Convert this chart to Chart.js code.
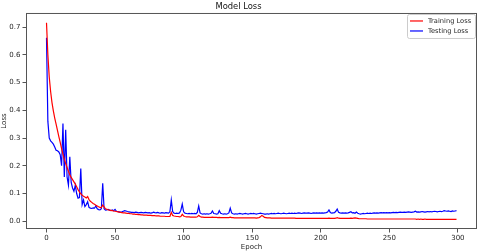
<!DOCTYPE html>
<html>
<head>
<meta charset="utf-8">
<script src="https://cdn.jsdelivr.net/npm/chart.js@4/dist/chart.umd.min.js"></script>
<style>
  html, body { margin: 0; padding: 0; background: #fff; }
  canvas { display: block; }
</style>
</head>
<body>
<canvas id="chart" width="480" height="252"></canvas>
<script>
// x values: training epochs 0..299
const epochs = Array.from({ length: 300 }, (_, i) => i);

// tick values shown on the axes
const yTicks = [0.0, 0.1, 0.2, 0.3, 0.4, 0.5, 0.6, 0.7];
const xTicks = [0, 50, 100, 150, 200, 250, 300];

// one value per epoch
const trainingLoss = [
  0.716, 0.600, 0.520, 0.468, 0.428, 0.398, 0.372, 0.350, 0.328, 0.305,
  0.284, 0.262, 0.242, 0.224, 0.208, 0.194, 0.180, 0.168, 0.158, 0.150,
  0.142, 0.134, 0.124, 0.114, 0.106, 0.099, 0.094, 0.090, 0.087, 0.084,
  0.089, 0.078, 0.072, 0.068, 0.064, 0.061, 0.058, 0.055, 0.052, 0.050,
  0.049, 0.058, 0.052, 0.045, 0.043, 0.041, 0.040, 0.039, 0.038, 0.037,
  0.036, 0.035, 0.034, 0.033, 0.032, 0.031, 0.030, 0.030, 0.029, 0.028,
  0.028, 0.027, 0.027, 0.026, 0.026, 0.025, 0.025, 0.024, 0.024, 0.023,
  0.023, 0.022, 0.022, 0.022, 0.021, 0.021, 0.021, 0.020, 0.020, 0.020,
  0.019, 0.019, 0.019, 0.018, 0.018, 0.018, 0.018, 0.017, 0.017, 0.017,
  0.017, 0.032, 0.021, 0.019, 0.018, 0.017, 0.017, 0.016, 0.017, 0.025,
  0.019, 0.017, 0.016, 0.016, 0.016, 0.015, 0.015, 0.015, 0.015, 0.015,
  0.016, 0.021, 0.017, 0.015, 0.015, 0.014, 0.014, 0.014, 0.014, 0.014,
  0.014, 0.015, 0.014, 0.014, 0.014, 0.013, 0.014, 0.013, 0.013, 0.013,
  0.013, 0.013, 0.013, 0.013, 0.015, 0.013, 0.013, 0.012, 0.012, 0.012,
  0.012, 0.012, 0.012, 0.012, 0.012, 0.012, 0.012, 0.012, 0.012, 0.012,
  0.012, 0.012, 0.012, 0.011, 0.012, 0.013, 0.016, 0.021, 0.018, 0.014,
  0.013, 0.012, 0.012, 0.012, 0.011, 0.011, 0.011, 0.011, 0.011, 0.011,
  0.011, 0.011, 0.011, 0.011, 0.011, 0.011, 0.011, 0.011, 0.011, 0.011,
  0.011, 0.011, 0.010, 0.010, 0.010, 0.010, 0.010, 0.010, 0.010, 0.010,
  0.010, 0.010, 0.010, 0.010, 0.010, 0.010, 0.010, 0.010, 0.010, 0.010,
  0.010, 0.010, 0.010, 0.010, 0.010, 0.010, 0.011, 0.010, 0.010, 0.010,
  0.010, 0.011, 0.013, 0.011, 0.010, 0.010, 0.010, 0.010, 0.010, 0.010,
  0.010, 0.010, 0.011, 0.010, 0.011, 0.012, 0.011, 0.010, 0.009, 0.009,
  0.009, 0.009, 0.009, 0.009, 0.008, 0.008, 0.008, 0.008, 0.008, 0.008,
  0.008, 0.008, 0.008, 0.008, 0.008, 0.008, 0.008, 0.008, 0.008, 0.008,
  0.008, 0.008, 0.008, 0.008, 0.008, 0.008, 0.008, 0.008, 0.008, 0.008,
  0.008, 0.008, 0.008, 0.008, 0.008, 0.008, 0.008, 0.008, 0.008, 0.008,
  0.007, 0.008, 0.007, 0.008, 0.007, 0.007, 0.008, 0.007, 0.007, 0.007,
  0.007, 0.007, 0.007, 0.007, 0.007, 0.007, 0.007, 0.007, 0.007, 0.007,
  0.007, 0.007, 0.007, 0.007, 0.007, 0.007, 0.007, 0.007, 0.007, 0.007
];

const testingLoss = [
  0.662, 0.360, 0.300, 0.290, 0.284, 0.278, 0.268, 0.256, 0.254, 0.250,
  0.240, 0.200, 0.352, 0.160, 0.330, 0.160, 0.130, 0.232, 0.140, 0.120,
  0.108, 0.130, 0.100, 0.083, 0.085, 0.190, 0.060, 0.077, 0.053, 0.060,
  0.070, 0.050, 0.047, 0.046, 0.048, 0.047, 0.055, 0.045, 0.042, 0.041,
  0.045, 0.137, 0.045, 0.040, 0.041, 0.043, 0.040, 0.038, 0.041, 0.038,
  0.043, 0.036, 0.035, 0.034, 0.033, 0.034, 0.036, 0.038, 0.037, 0.035,
  0.034, 0.033, 0.032, 0.032, 0.031, 0.033, 0.032, 0.030, 0.031, 0.032,
  0.031, 0.030, 0.032, 0.031, 0.030, 0.031, 0.029, 0.030, 0.033, 0.031,
  0.030, 0.032, 0.030, 0.029, 0.031, 0.030, 0.029, 0.031, 0.030, 0.029,
  0.034, 0.077, 0.035, 0.029, 0.028, 0.029, 0.028, 0.030, 0.040, 0.062,
  0.034, 0.029, 0.028, 0.027, 0.028, 0.027, 0.028, 0.027, 0.028, 0.027,
  0.032, 0.055, 0.030, 0.027, 0.026, 0.027, 0.026, 0.027, 0.026, 0.027,
  0.029, 0.037, 0.028, 0.027, 0.026, 0.027, 0.038, 0.029, 0.027, 0.026,
  0.027, 0.026, 0.027, 0.030, 0.047, 0.030, 0.027, 0.026, 0.027, 0.026,
  0.027, 0.028, 0.027, 0.026, 0.027, 0.028, 0.027, 0.026, 0.027, 0.028,
  0.027, 0.028, 0.027, 0.026, 0.027, 0.028, 0.029, 0.028, 0.027, 0.026,
  0.026, 0.027, 0.026, 0.027, 0.028, 0.027, 0.028, 0.027, 0.028, 0.029,
  0.028, 0.027, 0.028, 0.029, 0.028, 0.027, 0.028, 0.029, 0.028, 0.029,
  0.028, 0.029, 0.028, 0.029, 0.030, 0.029, 0.028, 0.029, 0.030, 0.029,
  0.029, 0.030, 0.029, 0.028, 0.029, 0.030, 0.029, 0.030, 0.029, 0.030,
  0.029, 0.030, 0.029, 0.030, 0.031, 0.033, 0.041, 0.031, 0.029, 0.030,
  0.031, 0.036, 0.044, 0.032, 0.030, 0.029, 0.030, 0.029, 0.030, 0.029,
  0.030, 0.032, 0.034, 0.030, 0.031, 0.029, 0.033, 0.029, 0.027, 0.026,
  0.027, 0.028, 0.027, 0.028, 0.029, 0.028, 0.029, 0.028, 0.029, 0.030,
  0.029, 0.030, 0.029, 0.030, 0.031, 0.030, 0.031, 0.030, 0.031, 0.030,
  0.031, 0.030, 0.031, 0.032, 0.031, 0.032, 0.031, 0.032, 0.033, 0.032,
  0.032, 0.033, 0.032, 0.033, 0.034, 0.033, 0.032, 0.033, 0.034, 0.036,
  0.033, 0.034, 0.033, 0.034, 0.035, 0.034, 0.033, 0.034, 0.035, 0.034,
  0.035, 0.034, 0.035, 0.036, 0.035, 0.034, 0.035, 0.036, 0.035, 0.036,
  0.038, 0.037, 0.036, 0.037, 0.036, 0.035, 0.037, 0.036, 0.037, 0.038
];

const FONT = "'DejaVu Sans', sans-serif";
const INK = '#262626';

// full box around the plot, like matplotlib spines
const framePlugin = {
  id: 'frame',
  afterDraw(chart) {
    const { ctx, chartArea: a } = chart;
    ctx.save();
    ctx.strokeStyle = '#555';
    ctx.lineWidth = 1;
    ctx.strokeRect(a.left + 0.5, a.top + 0.5, a.right - a.left - 1, a.bottom - a.top - 1);
    ctx.restore();
  }
};

// legend box in the upper right corner of the plot
const boxLegend = {
  id: 'boxLegend',
  afterDraw(chart) {
    const { ctx, chartArea: a } = chart;
    const sets = chart.data.datasets;
    const w = 68, rowH = 10;
    const x = a.right - w - 2, y = a.top + 1;
    ctx.save();
    ctx.fillStyle = 'rgba(255,255,255,0.8)';
    ctx.strokeStyle = '#ccc';
    ctx.lineWidth = 1;
    ctx.beginPath();
    ctx.roundRect(x + 0.5, y + 0.5, w, sets.length * rowH + 4, 2);
    ctx.fill();
    ctx.stroke();
    ctx.font = '6.7px ' + FONT;
    ctx.textBaseline = 'middle';
    sets.forEach((ds, i) => {
      const cy = y + 7 + i * rowH;
      ctx.strokeStyle = ds.borderColor;
      ctx.lineWidth = 1.2;
      ctx.beginPath();
      ctx.moveTo(x + 3, cy);
      ctx.lineTo(x + 16, cy);
      ctx.stroke();
      ctx.fillStyle = INK;
      ctx.fillText(ds.label, x + 21, cy);
    });
    ctx.restore();
  }
};

new Chart(document.getElementById('chart'), {
  type: 'line',
  data: {
    labels: epochs,
    datasets: [
      {
        label: 'Training Loss',
        data: trainingLoss,
        borderColor: '#ff0000',
        borderWidth: 1.2,
        pointRadius: 0,
        tension: 0,
      },
      {
        label: 'Testing Loss',
        data: testingLoss,
        borderColor: '#0000ff',
        borderWidth: 1.2,
        pointRadius: 0,
        tension: 0,
      },
    ],
  },
  options: {
    responsive: false,
    animation: false,
    devicePixelRatio: 1,
    layout: { padding: { left: 0, right: 3, top: 0, bottom: 0 } },
    plugins: {
      legend: { display: false },
      tooltip: { enabled: false },
      title: {
        display: true,
        text: 'Model Loss',
        color: '#111',
        font: { family: FONT, size: 8.4, weight: 'normal', lineHeight: 1.2 },
        padding: { top: 1.5, bottom: 1.4 },
      },
    },
    scales: {
      x: {
        type: 'linear',
        min: -14.95,
        max: 313.95,
        afterBuildTicks: (scale) => { scale.ticks = xTicks.map(v => ({ value: v })); },
        afterFit: (scale) => { scale.height = 23; },
        grid: { drawOnChartArea: false, drawTicks: true, tickLength: 3.5, tickColor: '#555' },
        border: { display: false },
        ticks: {
          color: INK,
          font: { family: FONT, size: 7 },
          padding: 1,
          maxRotation: 0,
          callback: (v) => String(v),
        },
        title: {
          display: true,
          text: 'Epoch',
          color: INK,
          font: { family: FONT, size: 7 },
          padding: { top: 0, bottom: 1 },
        },
      },
      y: {
        type: 'linear',
        min: -0.028,
        max: 0.751,
        afterBuildTicks: (scale) => { scale.ticks = yTicks.map(v => ({ value: v })); },
        afterFit: (scale) => { scale.width = 26; },
        grid: { drawOnChartArea: false, drawTicks: true, tickLength: 3.5, tickColor: '#555' },
        border: { display: false },
        ticks: {
          color: INK,
          font: { family: FONT, size: 7 },
          padding: 2,
          callback: (v) => v.toFixed(1),
        },
        title: {
          display: true,
          text: 'Loss',
          color: INK,
          font: { family: FONT, size: 7 },
          padding: 0,
        },
      },
    },
  },
  plugins: [framePlugin, boxLegend],
});
</script>
</body>
</html>
